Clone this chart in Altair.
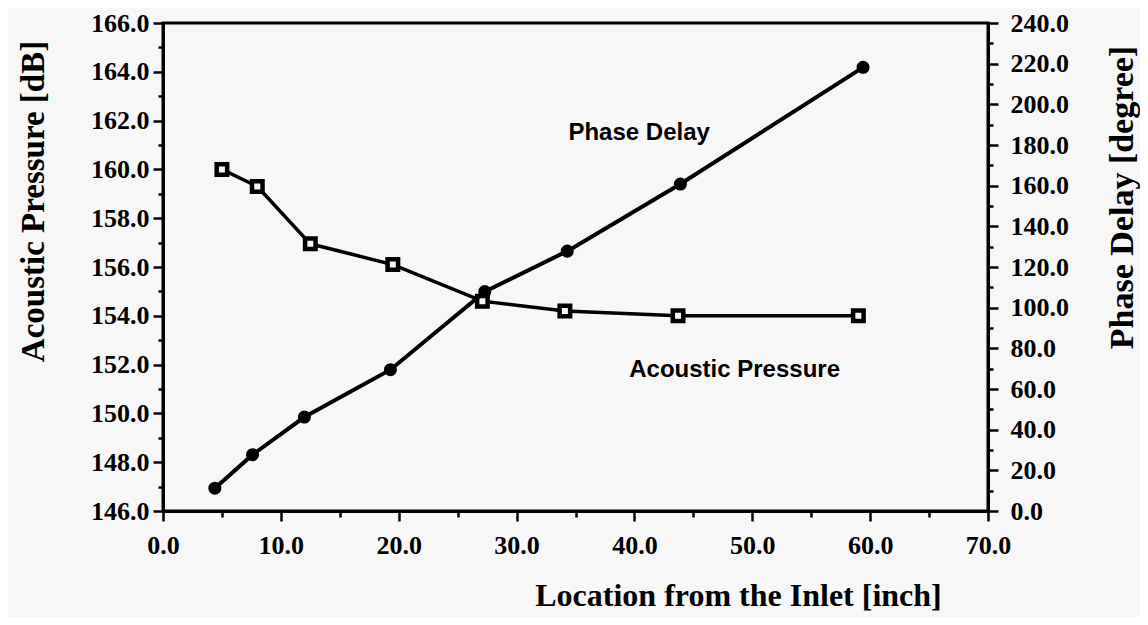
import altair as alt
import pandas as pd

# ---- data ----
location_phase = [4.4, 7.6, 12.0, 19.3, 27.3, 34.3, 43.9, 59.4]
phase_delay = [11.2, 27.7, 46.2, 69.5, 107.9, 127.8, 160.8, 218.2]

location_pressure = [5.0, 8.0, 12.5, 19.5, 27.1, 34.1, 43.7, 59.0]
acoustic_pressure = [160.0, 159.3, 156.95, 156.1, 154.6, 154.2, 154.0, 154.0]

x_ticks = list(range(0, 75, 5))
left_ticks = list(range(146, 167))
right_ticks = list(range(0, 250, 10))

phase_label = ["Phase Delay"]
phase_label_x = [40.4]
phase_label_y = [182.5]
pressure_label = ["Acoustic Pressure"]
pressure_label_x = [48.5]
pressure_label_y = [151.5]

BG = "#f7f7f7"
SERIF = "Liberation Serif"
SANS = "Liberation Sans"

df_p = pd.DataFrame({"location": location_pressure, "pressure": acoustic_pressure})
df_d = pd.DataFrame({"location": location_phase, "phase": phase_delay})
df_tp = pd.DataFrame({"location": pressure_label_x, "pressure": pressure_label_y, "label": pressure_label})
df_td = pd.DataFrame({"location": phase_label_x, "phase": phase_label_y, "label": phase_label})

common_axis = dict(
    grid=False,
    labelFont=SERIF, labelFontWeight="bold", labelFontSize=26, labelColor="black",
    titleFont=SERIF, titleFontWeight="bold", titleColor="black",
    domainColor="black", domainWidth=3, tickColor="black", tickWidth=2.5,
    labelOverlap=False, labelFlush=False, labelBound=False,
)

x_axis = alt.Axis(
    orient="bottom",
    values=x_ticks,
    labelExpr="datum.value % 10 == 0 ? format(datum.value, '.1f') : ''",
    tickSize={"condition": {"test": "datum.value % 10 == 0", "value": 10}, "value": 6},
    labelPadding=11,
    title="Location from the Inlet [inch]",
    titleFontSize=32,
    titleX=575, titleY=84, titleAlign="center", titleBaseline="middle", titleAngle=0,
    **common_axis,
)

left_axis = alt.Axis(
    orient="left",
    values=left_ticks,
    labelExpr="datum.value % 2 == 0 ? format(datum.value, '.1f') : ''",
    tickSize={"condition": {"test": "datum.value % 2 == 0", "value": 10}, "value": 5},
    labelPadding=4,
    title="Acoustic Pressure [dB]",
    titleFontSize=33,
    titleX=-130, titleY=178, titleAlign="center", titleBaseline="middle", titleAngle=270,
    **common_axis,
)

right_axis = alt.Axis(
    orient="right",
    values=right_ticks,
    labelExpr="datum.value % 20 == 0 ? format(datum.value, '.1f') : ''",
    tickSize={"condition": {"test": "datum.value % 20 == 0", "value": 10}, "value": 5},
    labelPadding=12,
    title="Phase Delay [degree]",
    titleFontSize=34,
    titleX=134, titleY=174, titleAlign="center", titleBaseline="middle", titleAngle=270,
    **common_axis,
)

X = alt.X("location:Q", scale=alt.Scale(domain=[0, 70], nice=False, zero=False), axis=x_axis)
YP = alt.Y("pressure:Q", scale=alt.Scale(domain=[146, 166], nice=False, zero=False), axis=left_axis)
YD = alt.Y("phase:Q", scale=alt.Scale(domain=[0, 240], nice=False, zero=False), axis=right_axis)

p_line = alt.Chart(df_p).mark_line(color="black", strokeWidth=3.5).encode(x=X, y=YP)
p_pts = alt.Chart(df_p).mark_square(size=110, fill=BG, stroke="black", strokeWidth=4.5, opacity=1).encode(x=X, y=YP)
p_txt = alt.Chart(df_tp).mark_text(
    font=SANS, fontWeight="bold", fontSize=24, align="center", baseline="alphabetic", color="black"
).encode(x=X, y=YP, text="label:N")

d_line = alt.Chart(df_d).mark_line(color="black", strokeWidth=4).encode(x=X, y=YD)
d_pts = alt.Chart(df_d).mark_circle(size=170, color="black", opacity=1).encode(x=X, y=YD)
d_txt = alt.Chart(df_td).mark_text(
    font=SANS, fontWeight="bold", fontSize=24, align="center", baseline="alphabetic", color="black"
).encode(x=X, y=YD, text="label:N")

pressure = alt.layer(p_line, p_pts, p_txt)
phase = alt.layer(d_line, d_pts, d_txt)

chart = (
    alt.layer(pressure, phase)
    .resolve_scale(y="independent")
    .properties(
        width=825,
        height=488,
        padding={"left": 155, "top": 15, "right": 152, "bottom": 106},
        autosize="none",
        background=BG,
    )
    .configure_view(stroke="black", strokeWidth=3)
)

chart.save("out.html", embed_options={"renderer": "svg", "actions": False})
